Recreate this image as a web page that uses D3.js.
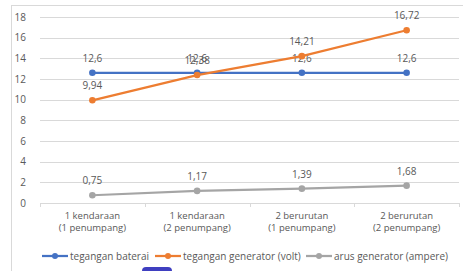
<!DOCTYPE html>
<html>
<head>
<meta charset="utf-8">
<script src="https://cdn.jsdelivr.net/npm/d3@7"></script>
<style>
  body { margin: 0; background: #fff; }
  text { font-family: "Open Sans", "Liberation Sans", sans-serif; fill: #595959; }
</style>
</head>
<body>
<svg id="chart" width="463" height="271"></svg>
<script>
const categories = [
  ["1 kendaraan", "(1 penumpang)"],
  ["1 kendaraan", "(2 penumpang)"],
  ["2 berurutan", "(1 penumpang)"],
  ["2 berurutan", "(2 penumpang)"]
];
const teganganBaterai = [12.6, 12.6, 12.6, 12.6];
const teganganGenerator = [9.94, 12.38, 14.21, 16.72];
const arusGenerator = [0.75, 1.17, 1.39, 1.68];
const yTicks = [0, 2, 4, 6, 8, 10, 12, 14, 16, 18];

const series = [
  { name: "tegangan baterai", color: "#4472C4", values: teganganBaterai },
  { name: "tegangan generator (volt)", color: "#ED7D31", values: teganganGenerator },
  { name: "arus generator (ampere)", color: "#A5A5A5", values: arusGenerator }
];

const svg = d3.select("#chart");
const margin = { top: 17, right: 4, bottom: 68, left: 40 };
const width = 463 - margin.left - margin.right;
const height = 271 - margin.top - margin.bottom;

// chart frame
svg.append("rect").attr("x", 11.5).attr("y", 5.5).attr("width", 470).attr("height", 280)
  .attr("fill", "none").attr("stroke", "#d9d9d9");

const g = svg.append("g").attr("transform", `translate(${margin.left},${margin.top})`);

const x = d3.scaleBand().domain(d3.range(categories.length)).range([0, width]);
const y = d3.scaleLinear().domain([0, 18]).range([height, 0]);

// gridlines
g.append("g").selectAll("line").data(yTicks.filter(d => d > 0)).join("line")
  .attr("x1", 0).attr("x2", width)
  .attr("y1", d => Math.round(y(d)) + 0.5).attr("y2", d => Math.round(y(d)) + 0.5)
  .attr("stroke", "#d9d9d9");

// y labels
g.append("g").selectAll("text").data(yTicks).join("text")
  .attr("x", -14).attr("y", d => y(d)).attr("dy", "0.35em")
  .attr("text-anchor", "end").attr("font-size", 10).text(d => d);

// x axis
const xAxis = g.append("g").attr("transform", `translate(0,${height})`)
  .call(d3.axisBottom(x).tickSize(0).tickFormat(""));
xAxis.select(".domain").attr("stroke", "#d9d9d9");
g.append("g").selectAll("line").data(d3.range(categories.length + 1)).join("line")
  .attr("x1", i => Math.round(i * x.step()) + 0.5).attr("x2", i => Math.round(i * x.step()) + 0.5)
  .attr("y1", height).attr("y2", height + 4).attr("stroke", "#d9d9d9");

const cx = i => x(i) + x.bandwidth() / 2;

g.append("g").selectAll("text").data(categories).join("text")
  .attr("text-anchor", "middle").attr("font-size", 9.5)
  .attr("transform", (d, i) => `translate(${cx(i)},${height + 16})`)
  .selectAll("tspan").data(d => d).join("tspan")
  .attr("x", 0).attr("dy", (d, j) => j === 0 ? 0 : 12).text(d => d);

// lines
const line = d3.line().x((d, i) => cx(i)).y(d => y(d));
series.forEach(s => {
  const sg = g.append("g");
  sg.append("path").datum(s.values).attr("d", line)
    .attr("fill", "none").attr("stroke", s.color).attr("stroke-width", 2.25);
  sg.selectAll("circle").data(s.values).join("circle")
    .attr("cx", (d, i) => cx(i)).attr("cy", d => y(d)).attr("r", 3.3).attr("fill", s.color);
  sg.selectAll("text").data(s.values).join("text")
    .attr("x", (d, i) => cx(i)).attr("y", d => y(d) - 11)
    .attr("text-anchor", "middle").attr("font-size", 10)
    .text(d => String(d).replace(".", ","));
});

// legend
const legend = svg.append("g").attr("transform", "translate(0,256)");
const legendX = [42, 155, 306];
series.forEach((s, i) => {
  const lg = legend.append("g").attr("transform", `translate(${legendX[i]},0)`);
  lg.append("line").attr("x1", 0).attr("x2", 26).attr("stroke", s.color).attr("stroke-width", 2.25);
  lg.append("circle").attr("cx", 13).attr("r", 3).attr("fill", s.color);
  lg.append("text").attr("x", 28).attr("dy", "0.35em").attr("font-size", 10).text(s.name);
});

// small blue marker at the bottom edge
svg.append("rect").attr("x", 142).attr("y", 267).attr("width", 30).attr("height", 10).attr("rx", 4)
  .attr("fill", "#3f3fc0");
</script>
</body>
</html>
